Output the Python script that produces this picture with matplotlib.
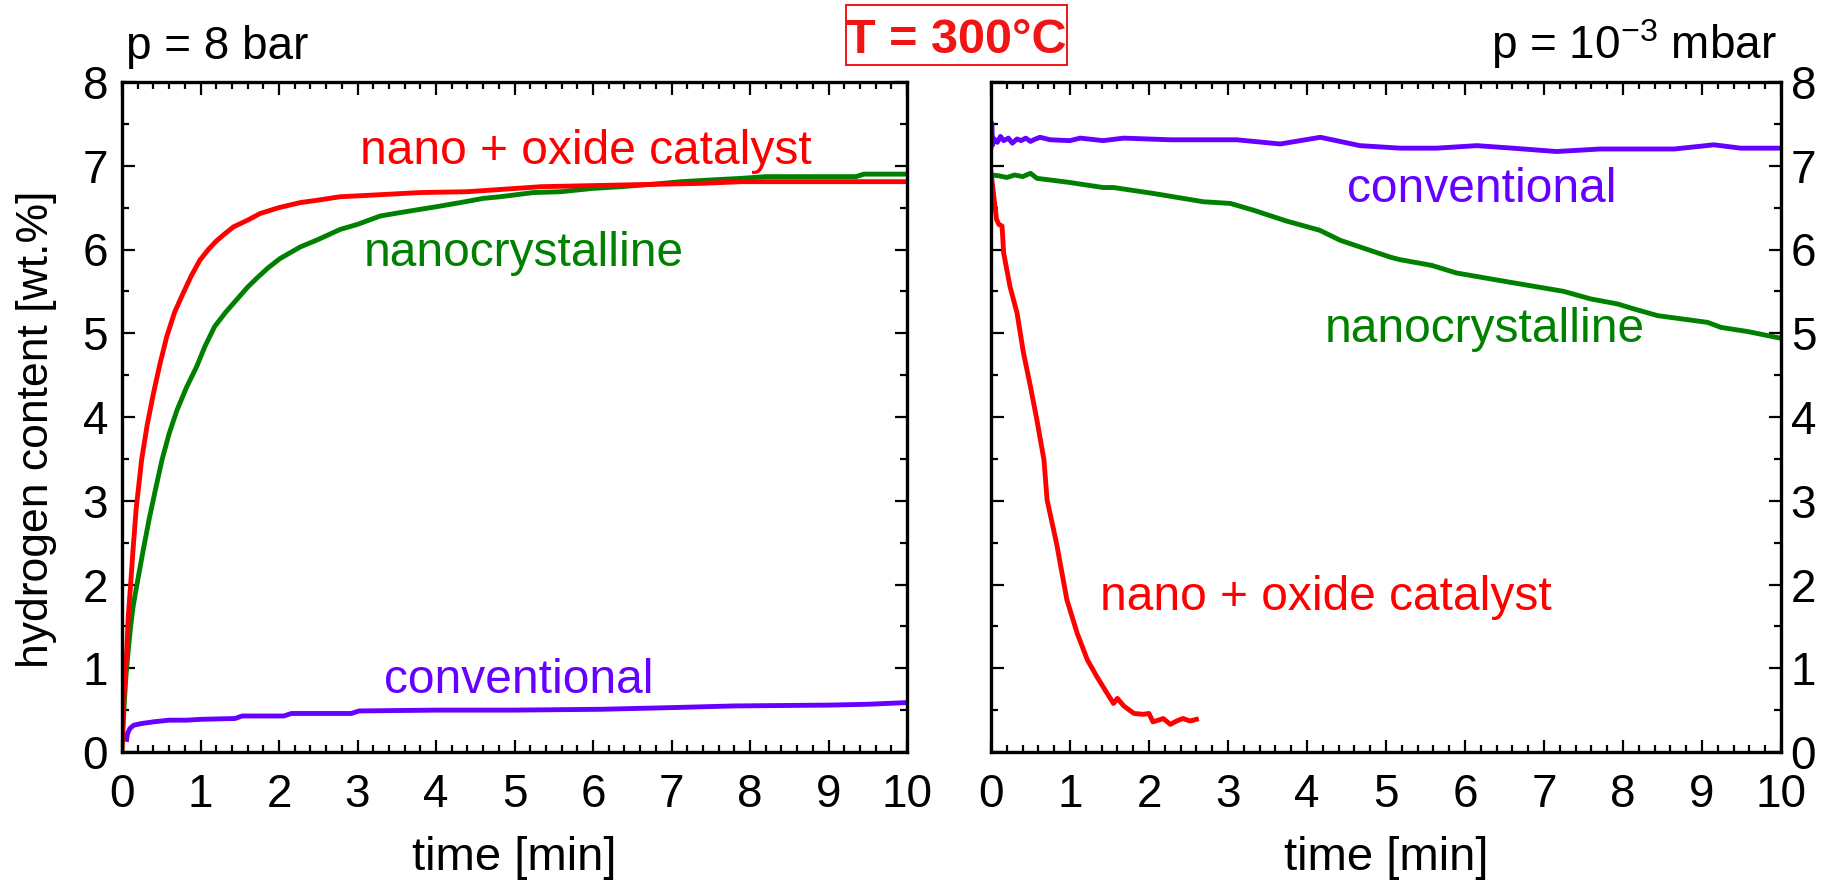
import matplotlib
matplotlib.use("Agg")
import matplotlib.pyplot as plt
from matplotlib.patches import Rectangle
from matplotlib.ticker import MultipleLocator

plt.rcParams['font.family'] = ['Liberation Sans', 'DejaVu Sans']
plt.rcParams['mathtext.fontset'] = 'custom'
plt.rcParams['mathtext.rm'] = 'Liberation Sans'
plt.rcParams['mathtext.default'] = 'regular'

# ---------------- data: absorption (p = 8 bar) ----------------
abs_nano_t = [0, 0.02, 0.04, 0.06, 0.08, 0.11, 0.14, 0.18, 0.25, 0.32, 0.40, 0.48, 0.57, 0.67,
              0.78, 0.88, 0.99, 1.1, 1.2, 1.3, 1.42, 1.6, 1.76, 2.0, 2.27, 2.5, 2.78, 3.2, 3.8,
              4.4, 5.34, 6.36, 7.38, 7.9, 9.0, 10.0]
abs_nano_v = [0.03, 0.6, 0.9, 1.2, 1.62, 2.0, 2.41, 2.9, 3.49, 3.9, 4.28, 4.62, 4.96, 5.25,
              5.48, 5.68, 5.87, 6.0, 6.1, 6.18, 6.27, 6.35, 6.43, 6.5, 6.56, 6.59, 6.63, 6.65, 6.68,
              6.69, 6.75, 6.77, 6.79, 6.81, 6.81, 6.81]

abs_ncr_t = [0, 0.03, 0.05, 0.08, 0.11, 0.14, 0.2, 0.27, 0.35, 0.43, 0.51, 0.6, 0.7, 0.82, 0.95,
             1.06, 1.18, 1.32, 1.46, 1.6, 1.72, 1.86, 2.01, 2.27, 2.5, 2.78, 3.0, 3.29, 3.54, 3.8,
             4.0, 4.31, 4.6, 4.82, 5.24, 5.59, 6.0, 6.36, 6.77, 7.13, 7.5, 7.9, 8.2, 8.8, 9.35,
             9.45, 10.0]
abs_ncr_v = [0.05, 0.6, 0.9, 1.22, 1.5, 1.73, 2.05, 2.41, 2.8, 3.15, 3.49, 3.8, 4.08, 4.35, 4.6,
             4.85, 5.08, 5.25, 5.4, 5.55, 5.66, 5.78, 5.89, 6.03, 6.12, 6.24, 6.3, 6.40, 6.44, 6.48,
             6.51, 6.56, 6.61, 6.63, 6.68, 6.69, 6.73, 6.75, 6.78, 6.81, 6.83, 6.85, 6.87, 6.87, 6.87,
             6.9, 6.9]

abs_conv_t = [0.06, 0.07, 0.1, 0.15, 0.25, 0.4, 0.6, 0.82, 1.0, 1.44, 1.53, 2.06, 2.16, 2.92,
              3.02, 4.0, 5.0, 6.1, 7.0, 7.8, 9.0, 9.5, 10.0]
abs_conv_v = [0.15, 0.22, 0.28, 0.32, 0.34, 0.36, 0.38, 0.38, 0.39, 0.40, 0.43, 0.43, 0.46, 0.46,
              0.49, 0.50, 0.50, 0.51, 0.53, 0.55, 0.56, 0.57, 0.59]

# ---------------- data: desorption (p = 1e-3 mbar) ----------------
des_conv_t = [0.0, 0.01, 0.02, 0.04, 0.08, 0.12, 0.16, 0.22, 0.27, 0.33, 0.38, 0.44, 0.5, 0.54,
              0.62, 0.75, 1.0, 1.13, 1.42, 1.68, 2.27, 3.11, 3.66, 4.17, 4.67, 5.18, 5.64, 6.15,
              6.6, 7.16, 7.71, 8.65, 9.15, 9.49, 10.0]
des_conv_v = [7.23, 7.51, 7.25, 7.32, 7.28, 7.35, 7.30, 7.33, 7.27, 7.32, 7.30, 7.33, 7.29, 7.31,
              7.34, 7.31, 7.30, 7.33, 7.30, 7.33, 7.31, 7.31, 7.26, 7.34, 7.24, 7.21, 7.21, 7.24,
              7.21, 7.17, 7.20, 7.20, 7.25, 7.21, 7.21]

des_ncr_t = [0, 0.1, 0.2, 0.3, 0.4, 0.5, 0.58, 1.0, 1.42, 1.55, 2.05, 2.69, 3.03, 3.32, 3.74, 4.16,
             4.42, 5.05, 5.17, 5.58, 5.89, 6.44, 7.25, 7.59, 7.93, 8.14, 8.44, 9.07, 9.24, 9.58, 10.0]
des_ncr_v = [6.89, 6.88, 6.86, 6.89, 6.87, 6.91, 6.85, 6.80, 6.74, 6.74, 6.67, 6.57, 6.55, 6.47,
             6.34, 6.23, 6.11, 5.91, 5.88, 5.81, 5.72, 5.63, 5.50, 5.41, 5.35, 5.29, 5.21, 5.13,
             5.07, 5.02, 4.94]

des_nano_t = [0.0, 0.03, 0.07, 0.1, 0.14, 0.16, 0.24, 0.33, 0.41, 0.5, 0.58, 0.67, 0.71, 0.83,
              0.96, 1.09, 1.22, 1.34, 1.47, 1.55, 1.60, 1.68, 1.81, 1.93, 2.0, 2.05, 2.12, 2.18,
              2.27, 2.35, 2.43, 2.52, 2.6]
des_nano_v = [6.92, 6.68, 6.36, 6.3, 6.28, 5.96, 5.56, 5.24, 4.77, 4.36, 3.97, 3.49, 3.01, 2.49,
              1.82, 1.42, 1.10, 0.90, 0.70, 0.58, 0.64, 0.55, 0.46, 0.45, 0.46, 0.36, 0.38, 0.40,
              0.33, 0.37, 0.40, 0.37, 0.39]

x_ticks = list(range(0, 11))
y_ticks = list(range(0, 9))

RED = '#ff0000'
GREEN = '#008000'
PURPLE = '#6600ff'
LW = 3.5
FS_TICK = 33
FS_LAB = 34
FS_ANN = 34.5

fig = plt.figure(figsize=(18.27, 8.83), dpi=100)
axL = fig.add_axes([122 / 1827, 1 - 752 / 883, 785 / 1827, 670 / 883])
axR = fig.add_axes([991 / 1827, 1 - 752 / 883, 790 / 1827, 670 / 883])

for ax in (axL, axR):
    ax.set_xlim(0, 10)
    ax.set_ylim(0, 8)
    ax.set_xticks(x_ticks)
    ax.set_yticks(y_ticks)
    ax.xaxis.set_minor_locator(MultipleLocator(0.2))
    ax.yaxis.set_minor_locator(MultipleLocator(0.5))
    ax.tick_params(which='both', direction='in', top=True, right=True, left=True,
                   bottom=True, width=1.6, colors='black')
    ax.tick_params(which='major', length=9, labelsize=FS_TICK)
    ax.tick_params(which='minor', length=5)
    ax.tick_params(axis='x', which='major', pad=15)
    for s in ax.spines.values():
        s.set_linewidth(2.4)
    ax.set_xlabel('time [min]', fontsize=FS_LAB, labelpad=14)

axL.tick_params(axis='y', which='major', pad=10)
axR.tick_params(axis='y', which='both', labelleft=False, labelright=True)
axR.tick_params(axis='y', which='major', pad=7)

# left panel
axL.plot(abs_conv_t, abs_conv_v, color=PURPLE, lw=LW, solid_joinstyle='round')
axL.plot(abs_ncr_t, abs_ncr_v, color=GREEN, lw=LW, solid_joinstyle='round')
axL.plot(abs_nano_t, abs_nano_v, color=RED, lw=LW, solid_joinstyle='round')
axL.text(3.03, 7.02, 'nano + oxide catalyst', color=RED, fontsize=FS_ANN, va='baseline', ha='left')
axL.text(3.08, 5.80, 'nanocrystalline', color=GREEN, fontsize=FS_ANN, va='baseline', ha='left')
axL.text(3.34, 0.71, 'conventional', color=PURPLE, fontsize=FS_ANN, va='baseline', ha='left')

# right panel
axR.plot(des_conv_t, des_conv_v, color=PURPLE, lw=LW, solid_joinstyle='round')
axR.plot(des_ncr_t, des_ncr_v, color=GREEN, lw=LW, solid_joinstyle='round')
axR.plot(des_nano_t, des_nano_v, color=RED, lw=LW, solid_joinstyle='round')
axR.text(4.5, 6.57, 'conventional', color=PURPLE, fontsize=FS_ANN, va='baseline', ha='left')
axR.text(4.22, 4.89, 'nanocrystalline', color=GREEN, fontsize=FS_ANN, va='baseline', ha='left')
axR.text(1.38, 1.69, 'nano + oxide catalyst', color=RED, fontsize=FS_ANN, va='baseline', ha='left')

# y label
fig.text(37 / 1827, 1 - 429 / 883, 'hydrogen content [wt.%]', rotation=90,
         fontsize=32, ha='center', va='center')

# headers
fig.text(126 / 1827, 1 - 59 / 883, 'p = 8 bar', fontsize=33, ha='left', va='baseline')
fig.text(1777 / 1827, 1 - 59 / 883, 'p = 10$^{-3}$ mbar', fontsize=33, ha='right', va='baseline')

TRED = '#f01414'
fig.text(956 / 1827, 1 - 53 / 883, 'T = 300°C', fontsize=35, fontweight='bold', color=TRED,
         ha='center', va='baseline')
fig.add_artist(Rectangle((846 / 1827, 1 - 65 / 883), 221 / 1827, 60 / 883,
                         transform=fig.transFigure, fill=False, ec=TRED, lw=1.4))

fig.savefig('out.png', dpi=100)
